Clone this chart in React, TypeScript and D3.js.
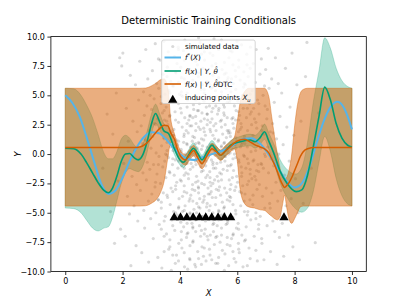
import { useEffect, useRef } from 'react'
import * as d3 from 'd3'

const W = 407
const H = 305
const margin = { top: 36.6, right: 40.7, bottom: 33.5, left: 50.9 }
const font = 'DejaVu Sans'

const blue = '#56B4E9'
const green = '#009E73'
const orange = '#D55E00'

// true latent function f*(X)
const trueX = [0, 0.25, 0.5, 0.75, 1, 1.25, 1.5, 1.75, 2, 2.25, 2.5, 2.75, 3, 3.25, 3.5, 3.75, 4, 4.25, 4.5, 4.75, 5, 5.25, 5.5, 5.75, 6, 6.25, 6.5, 6.75, 7, 7.25, 7.5, 7.75, 8, 8.25, 8.5, 8.75, 9, 9.25, 9.5, 9.75, 10]
const trueY = [5.0, 4.35, 3.2, 1.4, -0.6, -2.5, -3.4, -3.1, -2.0, -0.6, 0.6, 1.45, 1.85, 1.8, 1.3, 0.6, 0.0, -0.4, -0.5, -0.3, -0.1, 0.1, 0.3, 0.6, 1.0, 1.3, 1.35, 1.0, 0.3, -0.6, -1.5, -2.4, -2.85, -2.5, -1.2, 0.8, 2.7, 4.0, 4.45, 3.8, 2.1]

// full GP posterior f(x) | Y, theta
const gpX = [0, 0.3, 0.55, 0.75, 0.95, 1.15, 1.35, 1.5, 1.65, 1.8, 1.95, 2.1, 2.25, 2.4, 2.55, 2.7, 2.85, 3, 3.15, 3.3, 3.45, 3.6, 3.8, 3.95, 4.12, 4.3, 4.47, 4.62, 4.77, 4.95, 5.12, 5.27, 5.42, 5.6, 5.77, 6.1, 6.45, 6.62, 6.8, 6.95, 7.1, 7.27, 7.5, 7.75, 8.05, 8.25, 8.45, 8.65, 8.85, 9.05, 9.25, 9.45, 9.65, 9.85, 10]
const gpMean = [0.5, 0.45, 0.0, -0.75, -1.6, -2.45, -3.1, -3.3, -2.9, -1.9, -0.65, 0.0, 0.05, -0.3, -0.5, -0.1, 1.0, 2.5, 3.45, 2.7, 1.95, 1.75, 0.5, -0.3, -0.7, -0.1, 0.5, 0.05, -0.5, 0.2, 0.75, 0.3, -0.1, 0.3, 0.75, 1.05, 1.2, 1.05, 1.4, 1.9, 1.1, 0.1, -1.5, -2.55, -3.2, -3.05, -1.8, 0.6, 3.2, 5.7, 4.6, 2.6, 1.35, 0.75, 0.6]
const gpHalf = [5.1, 5.1, 5.0, 4.9, 4.7, 4.1, 3.2, 2.9, 2.5, 2.1, 1.9, 1.6, 1.3, 1.1, 1.0, 0.95, 0.9, 0.85, 0.8, 0.7, 0.6, 0.55, 0.5, 0.45, 0.45, 0.45, 0.45, 0.4, 0.4, 0.4, 0.4, 0.4, 0.4, 0.4, 0.4, 0.45, 0.5, 0.55, 0.6, 0.65, 0.7, 0.8, 1.0, 1.2, 1.5, 1.9, 2.8, 3.8, 3.9, 4.2, 4.4, 4.7, 4.9, 5.0, 5.0]

// DTC posterior f(x) | Y, theta_DTC
const dtcX = [0, 2.4, 2.6, 2.8, 3.0, 3.2, 3.3, 3.45, 3.58, 3.68, 3.8, 3.95, 4.1, 4.2, 4.33, 4.48, 4.62, 4.77, 4.95, 5.12, 5.27, 5.42, 5.6, 5.77, 5.9, 6.0, 6.1, 6.25, 6.4, 6.6, 6.8, 6.95, 7.1, 7.2, 7.3, 7.4, 7.5, 7.58, 7.65, 7.72, 7.8, 7.9, 8.0, 8.1, 8.2, 8.3, 8.45, 8.7, 10]
const dtcMean = [0.55, 0.55, 0.6, 0.85, 1.35, 1.95, 2.2, 2.45, 2.4, 1.8, 1.3, 0.15, -0.4, -0.5, -0.1, 0.3, -0.3, -0.8, -0.1, 0.45, 0.2, -0.1, 0.3, 0.65, 0.95, 1.1, 1.2, 1.25, 1.1, 0.8, 0.6, 0.45, 0.1, -0.4, -0.9, -1.5, -2.2, -2.6, -2.85, -2.7, -2.45, -2.0, -1.4, -0.8, -0.2, 0.2, 0.45, 0.55, 0.55]
const dtcLower = [-4.43, -4.43, -4.43, -4.4, -4.2, -3.8, -3.4, -2.3, -0.3, 1.0, 0.8, -0.35, -0.85, -0.95, -0.55, -0.15, -0.75, -1.25, -0.55, 0.0, -0.25, -0.55, -0.15, 0.2, 0.45, -0.6, -3.0, -4.2, -4.5, -4.6, -4.75, -4.8, -5.1, -5.3, -5.5, -5.6, -5.3, -4.3, -3.5, -4.5, -5.5, -5.9, -5.5, -5.0, -4.5, -4.43, -4.43, -4.43, -4.43]
const dtcUpper = [5.6, 5.6, 5.6, 5.62, 5.8, 6.1, 6.3, 6.4, 5.6, 3.0, 1.8, 0.65, 0.05, -0.05, 0.35, 0.75, 0.15, -0.35, 0.35, 0.9, 0.65, 0.35, 0.75, 1.1, 1.45, 2.8, 4.4, 5.3, 5.6, 5.6, 5.6, 5.6, 4.9, 3.2, 1.5, 0.0, -1.3, -1.9, -2.1, -2.0, -1.4, 0.0, 2.4, 4.2, 5.2, 5.5, 5.6, 5.6, 5.6]

// inducing points X_u
const inducingX = [3.8, 4.02, 4.24, 4.46, 4.68, 4.9, 5.11, 5.33, 5.55, 5.77, 7.63]
const inducingY = [-5.3, -5.3, -5.3, -5.3, -5.3, -5.3, -5.3, -5.3, -5.3, -5.3, -5.3]

const xTicks = [0, 2, 4, 6, 8, 10]
const yTicks = [-10, -7.5, -5, -2.5, 0, 2.5, 5, 7.5, 10]

// simulated data (x, y), first batch
const simulatedA: [number, number][] = [
  [1.31,-1.2],[1.46,3.4],[1.58,-4.9],[1.66,1.7],[1.72,-7.6],[1.78,5.2],[1.84,-2.3],[1.9,8.2],[1.93,-6.4],[1.97,7.5],
  [2.01,8.6],[2.04,-0.8],[2.09,-7.0],[2.13,3.9],[2.17,-3.6],[2.2,1.1],[2.24,-5.1],[2.27,6.7],[2.29,-9.5],[2.33,-1.9],
  [2.36,2.8],[2.4,-4.4],[2.42,0.3],[2.45,5.9],[2.47,-7.8],[2.49,-2.6],[2.51,1.9],[2.53,-5.7],[2.56,4.6],[2.58,-0.4],
  [2.6,7.9],[2.62,-3.1],[2.65,2.4],[2.67,-8.4],[2.69,0.9],[2.71,-1.6],[2.73,5.3],[2.74,-4.8],[2.76,3.3],[2.77,-6.3],
  [2.79,1.2],[2.81,8.9],[2.83,-2.2],[2.85,4.1],[2.86,-0.7],[2.88,6.4],[2.9,-4.0],[2.91,-9.2],[2.93,2.0],[2.95,-1.3],
  [2.96,5.0],[2.98,-5.5],[2.99,0.5],[3.01,3.8],[3.02,-3.4],[3.04,7.1],[3.05,1.5],[3.07,-7.2],[3.08,-0.9],[3.1,4.7],
  [3.11,2.6],[3.13,-2.8],[3.14,9.4],[3.16,-5.0],[3.17,0.1],[3.19,6.0],[3.2,-1.7],[3.22,3.0],[3.23,-8.8],[3.24,-3.9],
  [3.25,1.8],[3.26,5.6],[3.27,-0.2],[3.28,-6.0],[3.3,2.2],[3.31,8.0],[3.32,-2.5],[3.34,4.3],[3.35,-4.6],[3.36,0.7],
  [3.37,-9.7],[3.39,3.5],[3.4,-1.1],[3.41,6.8],[3.42,-3.3],[3.43,1.4],[3.45,-7.0],[3.46,2.9],[3.47,-0.6],[3.48,5.1],
  [3.49,-5.3],[3.5,0.0],[3.44,9.6],[3.51,-2.0],[3.52,4.0],[3.53,-6.8],[3.55,1.0],[3.56,7.4],[3.57,-3.7],[3.58,2.5],
  [3.6,-0.3],[3.61,-8.1],[3.62,5.4],[3.63,-1.5],[3.64,3.2],[3.66,-4.3],[3.67,0.6],[3.68,6.2],[3.69,-2.9],[3.7,-9.9],
  [3.71,1.9],[3.72,-5.6],[3.73,4.8],[3.74,-0.9],[3.59,8.7],[3.65,-7.3],[3.54,2.8],[3.75,-3.2],[3.76,0.3],[3.77,5.8],
  [3.78,-4.9],[3.79,2.1],[3.8,-1.8],[3.81,8.3],[3.82,-6.5],[3.83,3.6],[3.84,-0.5],[3.85,-3.0],[3.86,6.9],[3.87,1.2],
  [3.88,-8.6],[3.89,-2.4],[3.9,4.4],[3.91,-5.2],[3.92,0.8],[3.93,-1.2],[3.94,9.1],[3.95,2.7],[3.96,-7.6],[3.97,-3.8],
  [3.98,5.1],[3.99,-0.1],[3.78,1.6],[3.84,-9.3],[3.9,7.7],[3.96,-4.5],[4.01,-2.2],[4.02,3.9],[4.03,-5.8],[4.04,0.4],
  [4.05,6.5],[4.06,-1.0],[4.07,-8.0],[4.08,2.3],[4.09,-3.6],[4.1,4.9],[4.11,-0.7],[4.12,8.8],[4.13,-6.2],[4.14,1.5],
  [4.15,-2.7],[4.16,-9.6],[4.17,3.1],[4.18,-4.4],[4.19,0.0],[4.2,6.0],[4.21,-1.6],[4.22,2.0],[4.23,-7.1],[4.24,-3.3],
  [4.05,5.3],[4.09,-4.9],[4.13,1.0],[4.17,9.7],[4.21,-5.4],[4.03,7.4],[4.24,0.9],[4.26,-0.4],[4.27,4.6],[4.28,-6.7],
  [4.29,1.8],[4.3,-2.1],[4.31,7.0],[4.32,-4.0],[4.33,0.2],[4.34,-8.9],[4.35,3.3],[4.36,-1.3],[4.37,5.7],[4.38,-3.5],
  [4.39,-0.8],[4.4,9.0],[4.41,2.4],[4.42,-5.9],[4.43,1.1],[4.44,-2.6],[4.45,6.3],[4.46,-7.4],[4.47,-0.1],[4.48,3.8],
  [4.49,-4.7],[4.27,-9.8],[4.31,2.9],[4.35,-5.1],[4.39,8.1],[4.43,-3.0],[4.47,4.2],[4.29,-1.7],[4.37,0.6],[4.45,-6.3],
  [4.51,1.4],[4.52,-3.1],[4.53,5.0],[4.54,-0.6],[4.55,-6.6],[4.56,2.6],[4.57,8.4],[4.58,-1.9],[4.59,-4.2],[4.6,0.5],
  [4.61,3.7],[4.62,-8.3],[4.63,-2.3],[4.64,6.6],[4.65,1.0],[4.66,-5.5],[4.67,-0.2],[4.68,4.3],[4.69,-3.8],[4.7,9.5],
  [4.71,2.1],[4.72,-7.0],[4.73,-1.1],[4.74,5.5],[4.52,-9.4],[4.55,3.2],[4.58,-5.0],[4.61,7.6],[4.64,-2.8],[4.67,0.9],
  [4.7,-4.6],[4.73,2.8],[4.56,-0.9],[4.62,4.8],[4.68,-6.1],[4.76,-2.5],[4.77,3.5],[4.78,-5.3],[4.79,0.7],[4.8,7.3],
  [4.81,-1.4],[4.82,-8.7],[4.83,2.2],[4.84,-3.9],[4.85,5.2],[4.86,-0.3],[4.87,9.2],[4.88,-6.4],[4.89,1.6],[4.9,-2.0],
  [4.91,-9.1],[4.92,4.0],[4.93,-4.5],[4.94,0.1],[4.95,6.1],[4.96,-1.8],[4.97,2.9],[4.98,-7.3],[4.99,-3.4],[4.78,5.9],
  [4.8,-4.1],[4.83,1.2],[4.86,8.0],[4.89,-5.7],[4.92,-0.6],[4.95,3.4],[4.98,-2.9],[4.77,-7.9],[4.84,4.5],[4.9,-1.0],
  [4.96,6.9],[5.01,0.3],[5.02,-4.8],[5.03,4.1],[5.04,-1.5],[5.05,8.6],[5.06,-6.9],[5.07,1.9],[5.08,-2.7],[5.09,5.6],
  [5.1,-0.5],[5.11,-9.0],[5.12,3.0],[5.13,-3.7],[5.14,0.8],[5.15,6.7],[5.16,-5.6],[5.17,-1.2],[5.18,2.4],[5.19,9.8],
  [5.2,-7.7],[5.21,-2.2],[5.22,4.7],[5.23,-0.1],[5.24,-4.3],[5.03,-8.1],[5.06,2.7],[5.09,-3.2],[5.12,7.5],[5.15,-0.9],
  [5.18,-5.9],[5.21,1.3],[5.24,5.4],[5.05,-2.4],[5.11,3.6],[5.17,-6.6],[5.23,0.4],[5.26,2.0],[5.27,-3.0],[5.28,6.2],
  [5.29,-0.8],[5.3,-6.1],[5.31,3.4],[5.32,-9.3],[5.33,1.1],[5.34,-2.3],[5.35,8.9],[5.36,-4.9],[5.37,0.2],[5.38,4.6],
  [5.39,-1.6],[5.4,-7.5],[5.41,2.8],[5.42,-3.5],[5.43,5.8],[5.44,0.6],[5.45,-5.2],[5.46,-0.4],[5.47,7.2],[5.48,-8.2],
  [5.49,1.7],[5.27,4.9],[5.3,-1.9],[5.33,-5.5],[5.36,3.9],[5.39,9.3],[5.42,-0.7],[5.45,2.3],[5.48,-4.1],[5.29,-7.0],
  [5.38,-2.8],[5.46,5.0],[5.51,-1.3],[5.52,4.2],[5.53,-4.6],[5.54,0.9],[5.55,7.8],[5.56,-2.9],[5.57,-8.5],[5.58,2.5],
  [5.59,-0.2],[5.6,5.6],[5.61,-6.0],[5.62,1.4],[5.63,-3.3],[5.64,9.0],[5.65,3.1],[5.66,-1.0],[5.67,-5.7],[5.68,6.5],
  [5.69,0.0],[5.7,-9.5],[5.71,2.0],[5.72,-2.2],[5.73,4.4],[5.74,-4.0],[5.53,3.5],[5.57,-0.6],[5.61,6.9],[5.65,-7.1],
  [5.69,1.8],[5.73,-3.6],[5.55,-5.1],[5.63,0.5],[5.71,8.2],[5.76,1.5],[5.77,-3.7],[5.78,5.3],[5.79,-0.9],[5.8,-7.2],
  [5.81,3.0],[5.82,8.7],[5.83,-2.0],[5.84,0.4],[5.85,-5.4],[5.86,6.0],[5.87,-1.4],[5.88,2.2],[5.89,-8.9],[5.9,4.1],
  [5.91,-3.1],[5.92,0.8],[5.93,7.1],[5.94,-4.8],[5.95,-0.3],[5.96,3.7],[5.97,-6.3],[5.98,1.1],[5.99,9.6],[5.78,-2.6],
  [5.82,4.8],[5.86,-6.8],[5.9,0.0],[5.94,2.9],[5.98,-1.9],[5.8,6.4],[6.01,-2.4],[6.02,4.5],[6.03,-5.9],[6.04,1.9],
  [6.05,8.0],[6.06,-0.7],[6.07,-8.4],[6.08,3.3],[6.09,-3.2],[6.1,6.3],[6.11,0.6],[6.12,-4.4],[6.13,2.6],[6.14,-1.1],
  [6.15,9.3],[6.16,-6.9],[6.17,1.0],[6.18,5.0],[6.19,-2.7],[6.2,-9.6],[6.21,3.9],[6.22,-0.1],[6.23,7.0],[6.24,-4.0],
  [6.04,-7.6],[6.1,2.1],[6.16,-1.6],[6.22,5.7],[6.26,0.9],[6.27,-3.4],[6.28,5.9],[6.3,-1.2],[6.31,-6.2],[6.32,3.1],
  [6.33,8.5],[6.35,-0.4],[6.36,2.0],[6.37,-4.9],[6.38,6.6],[6.4,-2.3],[6.41,-8.0],[6.42,1.3],[6.43,4.3],[6.45,-1.7],
  [6.46,9.1],[6.47,-5.6],[6.48,0.2],[6.49,3.6],[6.29,-7.3],[6.34,7.6],[6.39,-0.8],[6.44,-3.9],[6.5,2.5],[6.51,-2.1],
  [6.52,5.4],[6.54,-4.3],[6.55,1.6],[6.56,7.7],[6.58,-0.5],[6.59,-7.0],[6.6,3.0],[6.61,-1.9],[6.63,6.1],[6.64,0.3],
  [6.65,-5.0],[6.66,8.9],[6.68,2.2],[6.69,-3.0],[6.7,-9.1],[6.71,4.6],[6.72,-0.9],[6.73,1.0],[6.74,-6.4],[6.57,3.9],
  [6.67,-1.4],[6.76,3.4],[6.77,-2.6],[6.79,6.8],[6.8,-5.3],[6.82,0.5],[6.83,-0.8],[6.84,8.1],[6.86,-7.6],[6.87,2.4],
  [6.88,-3.6],[6.9,5.0],[6.91,-1.2],[6.93,-9.0],[6.94,1.7],[6.96,-4.6],[6.97,4.1],[6.98,-0.2],[6.99,7.2],[7.01,-2.9],
  [7.03,3.0],[7.04,-6.1],[7.06,0.6],[7.08,9.0],[7.09,-1.6],[7.11,5.6],[7.13,-4.2],[7.15,1.9],[7.16,-8.3],[7.18,-0.4],
  [7.2,6.4],[7.21,-3.3],[7.23,2.6],[7.24,-5.7],[7.27,-1.0],[7.29,4.4],[7.31,-6.6],[7.33,8.2],[7.35,-2.4],[7.37,1.3],
  [7.39,-9.4],[7.41,-4.0],[7.43,6.0],[7.45,0.0],[7.47,-7.1],[7.49,3.2],[7.52,-3.1],[7.55,5.2],[7.57,-5.9],[7.6,0.8],
  [7.62,-8.7],[7.65,-1.8],[7.68,7.3],[7.7,-4.4],[7.73,2.3],[7.78,-6.9],[7.81,-0.6],[7.84,4.0],[7.88,-3.8],[7.91,8.6],
  [7.94,-7.9],[7.97,1.6],[8.03,-2.1],[8.08,5.9],[8.12,-5.0],[8.17,-9.0],[8.22,2.8],[8.3,-4.2],[8.38,6.6],[8.43,9.5],
  [8.58,-1.2],[8.72,-7.55],[8.84,3.5],
]

// simulated data (x, y), second batch
const simulatedB: [number, number][] = [
  [4.55,7.9],[5.35,-3.1],[3.95,-0.6],[6.15,2.3],[4.85,-6.8],[5.65,4.4],[3.45,1.3],[6.65,-2.2],[4.25,9.3],[5.05,-8.6],
  [5.85,0.9],[4.65,-4.5],[3.75,5.8],[6.35,-5.2],[5.25,2.6],[4.15,-1.8],[4.95,6.2],[5.55,-0.2],[3.65,-7.9],[6.05,7.4],
  [4.45,3.1],[5.15,-2.5],[4.75,0.4],[5.95,-9.2],[3.85,2.9],[6.45,5.1],[5.45,-6.3],[4.35,-3.8],[5.75,8.8],[4.05,0.2],
  [6.85,-0.9],[3.35,-4.1],[5.05,4.9],[4.55,-9.6],[5.65,-1.4],[4.85,1.9],[6.25,-7.4],[3.55,6.6],[5.35,3.7],[4.25,-5.9],
  [7.05,3.8],[3.15,-2.4],[4.95,-0.1],[5.85,-4.3],[4.45,8.2],[6.55,1.1],[5.25,-7.1],[3.95,4.3],[4.65,-2.9],[6.05,-0.5],
  [5.55,6.8],[4.15,-8.4],[5.15,1.6],[3.75,-0.4],[6.35,3.9],[4.75,-5.3],[5.45,0.7],[4.35,2.4],[5.95,5.5],[3.25,8.1],
  [6.75,-6.0],[4.85,-3.6],[5.65,2.0],[4.05,-6.6],[5.05,9.1],[4.55,0.9],[6.15,-3.3],[3.65,3.3],[5.35,-4.8],[4.95,3.4],
  [5.75,-1.0],[4.25,5.2],[6.45,-8.9],[3.85,-2.7],[5.15,-0.7],[4.65,6.9],[5.85,3.1],[4.45,-7.5],[6.95,0.0],[3.45,-5.7],
  [5.25,4.1],[4.75,-1.5],[5.55,-5.4],[4.15,1.7],[6.25,6.0],[3.95,-9.1],[5.05,-2.0],[4.35,7.2],[5.45,9.7],[6.65,2.7],
  [4.85,-8.0],[3.55,0.3],[5.95,-2.8],[4.55,4.6],[5.65,-7.7],[4.05,3.5],[6.05,-6.4],[5.15,5.7],[4.95,-4.2],[3.75,-6.1],
  [6.35,0.6],[5.35,1.2],[4.25,-0.8],[5.85,7.6],[4.65,2.3],[7.15,-4.6],[3.35,4.9],[5.25,-9.3],[4.45,-1.1],[6.55,-3.5],
  [5.75,0.1],[4.75,8.5],[3.95,-4.6],[5.45,-2.2],[6.15,4.7],[4.15,-3.2],[5.05,2.1],[4.85,5.5],[5.55,3.3],[3.65,-1.6],
  [6.45,-1.3],[4.35,0.0],[5.95,1.4],[4.55,-5.6],[5.65,6.3],[3.85,7.0],[6.75,4.3],[5.15,-5.0],[4.25,2.6],[5.35,-8.8],
  [4.95,0.6],[6.25,-4.9],[3.45,-8.3],[5.85,-6.9],[4.65,-3.3],[5.25,7.7],[4.05,-2.3],[6.85,-7.2],[4.45,5.9],[5.55,1.0],
  [4.75,-6.5],[3.25,-0.9],[5.05,-4.4],[6.05,2.9],[4.15,6.4],[5.75,-3.0],[4.85,3.0],[3.75,1.6],[6.35,-9.5],[5.45,5.3],
  [4.35,-9.0],[5.95,0.5],[4.55,-2.4],[6.65,-5.5],[5.15,3.9],[3.95,8.9],[4.95,-7.0],[5.65,-3.9],[4.25,4.0],[6.15,-1.9],
  [5.35,6.5],[3.55,-3.5],[4.75,1.3],[5.85,-0.4],[4.45,-4.0],[7.25,1.8],[5.05,0.8],[4.65,9.9],[3.15,2.5],[6.45,7.3],
  [5.25,-1.2],[4.05,-7.3],[5.55,-9.9],[4.85,-0.3],[6.55,-0.6],[3.85,-5.0],[5.75,4.6],[4.15,-4.8],[5.45,-1.7],[6.25,1.5],
  [4.95,7.1],[3.65,5.2],[5.15,-6.0],[4.35,3.2],[5.95,-5.1],[4.55,2.0],[6.95,5.8],[3.35,-6.4],[5.65,0.3],[4.25,-6.8],
  [5.05,-3.4],[4.75,4.8],[6.05,-8.1],[5.35,0.0],[3.95,1.1],[4.65,-8.9],[5.85,2.6],[4.45,1.5],[6.35,-2.6],[5.25,-3.7],
  [4.15,8.0],[3.75,-8.6],[5.55,4.0],[4.85,-2.6],[6.75,-1.5],[5.45,-6.9],[4.05,5.0],[6.15,0.8],[4.95,-5.5],[3.45,3.7],
  [5.75,-7.8],[4.35,-5.0],[5.15,8.4],[4.55,-0.5],[6.45,3.4],[3.85,0.5],[5.65,-5.9],[4.25,0.8],[5.95,6.6],[4.75,-9.4],
  [5.05,5.9],[6.65,-8.2],[3.55,-0.1],[5.35,-5.6],[4.65,3.7],[6.25,-0.2],[4.15,-1.2],[5.85,-8.3],[4.85,8.7],[3.25,-3.9],
  [5.45,2.9],[4.45,-6.2],[6.05,3.6],[5.25,0.5],[3.95,6.1],[4.95,2.5],[5.55,-4.5],[4.35,-7.8],[6.85,2.0],[5.75,1.8],
]

export default function App() {
  const svgRef = useRef<SVGSVGElement>(null)

  useEffect(() => {
    if (!svgRef.current) return
    d3.select(svgRef.current).selectAll('*').remove()
    const svg = d3.select(svgRef.current)

    const x = d3.scaleLinear().domain([-0.5, 10.5]).range([margin.left, W - margin.right])
    const y = d3.scaleLinear().domain([-10, 10]).range([H - margin.bottom, margin.top])

    svg.append('defs').append('clipPath').attr('id', 'plot')
      .append('rect')
      .attr('x', margin.left).attr('y', margin.top)
      .attr('width', W - margin.left - margin.right)
      .attr('height', H - margin.top - margin.bottom)

    const plot = svg.append('g').attr('clip-path', 'url(#plot)')

    // simulated data
    plot.append('g')
      .selectAll('circle')
      .data([...simulatedA, ...simulatedB])
      .join('circle')
      .attr('cx', (d) => x(d[0]))
      .attr('cy', (d) => y(d[1]))
      .attr('r', 1.6)
      .attr('fill', '#000')
      .attr('fill-opacity', 0.15)

    const curve = d3.curveMonotoneX

    // GP band then DTC band
    const gpArea = d3.area<number>()
      .x((_, i) => x(gpX[i]))
      .y0((_, i) => y(gpMean[i] - gpHalf[i]))
      .y1((_, i) => y(gpMean[i] + gpHalf[i]))
      .curve(curve)
    plot.append('path')
      .datum(gpMean)
      .attr('d', gpArea)
      .attr('fill', green).attr('fill-opacity', 0.3)
      .attr('stroke', green).attr('stroke-opacity', 0.3).attr('stroke-width', 0.8)

    const dtcArea = d3.area<number>()
      .x((_, i) => x(dtcX[i]))
      .y0((_, i) => y(dtcLower[i]))
      .y1((_, i) => y(dtcUpper[i]))
      .curve(curve)
    plot.append('path')
      .datum(dtcMean)
      .attr('d', dtcArea)
      .attr('fill', orange).attr('fill-opacity', 0.5)
      .attr('stroke', orange).attr('stroke-opacity', 0.5).attr('stroke-width', 0.8)

    // lines
    const line = (xs: number[]) =>
      d3.line<number>().x((_, i) => x(xs[i])).y((d) => y(d)).curve(curve)

    plot.append('path').datum(trueY).attr('d', line(trueX))
      .attr('fill', 'none').attr('stroke', blue).attr('stroke-width', 2)
    plot.append('path').datum(gpMean).attr('d', line(gpX))
      .attr('fill', 'none').attr('stroke', green).attr('stroke-width', 1.6)
    plot.append('path').datum(dtcMean).attr('d', line(dtcX))
      .attr('fill', 'none').attr('stroke', orange).attr('stroke-width', 1.5)

    // inducing points
    const tri = d3.symbol().type(d3.symbolTriangle).size(37)
    plot.append('g')
      .selectAll('path')
      .data(inducingX)
      .join('path')
      .attr('d', tri)
      .attr('transform', (d, i) => `translate(${x(d)},${y(inducingY[i]) + 1.3})`)
      .attr('fill', '#000')

    // axes
    const xAxis = svg.append('g')
      .attr('transform', `translate(0,${H - margin.bottom})`)
      .call(d3.axisBottom(x).tickValues(xTicks).tickSize(3.5).tickPadding(3.5).tickFormat(d3.format('d')))
    const yAxis = svg.append('g')
      .attr('transform', `translate(${margin.left},0)`)
      .call(d3.axisLeft(y).tickValues(yTicks).tickSize(3.5).tickPadding(2.5).tickFormat(d3.format('.1f')))
    for (const ax of [xAxis, yAxis]) {
      ax.attr('font-size', 8).attr('font-family', font)
      ax.select('.domain').remove()
      ax.selectAll('line').attr('stroke', '#000').attr('stroke-width', 0.8)
      ax.selectAll('text').attr('fill', '#000')
    }

    // spines
    svg.append('rect')
      .attr('x', margin.left).attr('y', margin.top)
      .attr('width', W - margin.left - margin.right)
      .attr('height', H - margin.top - margin.bottom)
      .attr('fill', 'none').attr('stroke', '#000').attr('stroke-width', 0.8)

    // title & labels
    svg.append('text')
      .attr('x', (margin.left + W - margin.right) / 2).attr('y', 24)
      .attr('text-anchor', 'middle').attr('font-family', font).attr('font-size', 10)
      .text('Deterministic Training Conditionals')
    svg.append('text')
      .attr('x', (margin.left + W - margin.right) / 2).attr('y', 296)
      .attr('text-anchor', 'middle').attr('font-family', font).attr('font-size', 8.5)
      .attr('font-style', 'italic')
      .text('X')
    svg.append('text')
      .attr('transform', `translate(21,${(margin.top + H - margin.bottom) / 2}) rotate(-90)`)
      .attr('text-anchor', 'middle').attr('font-family', font).attr('font-size', 8.5)
      .attr('font-style', 'italic')
      .text('Y')

    // legend
    const lg = svg.append('g').attr('font-family', font).attr('font-size', 7.2)
    lg.append('rect')
      .attr('x', 161.7).attr('y', 40).attr('width', 93.5).attr('height', 63.5).attr('rx', 2)
      .attr('fill', '#fff').attr('fill-opacity', 0.8)
      .attr('stroke', '#ccc').attr('stroke-width', 0.8)

    const hx0 = 164.5
    const hx1 = 181
    const tx = 185
    const rows = [46.5, 57.5, 71, 84, 97.5]

    lg.append('circle').attr('cx', (hx0 + hx1) / 2).attr('cy', rows[0]).attr('r', 1.6)
      .attr('fill', '#000').attr('fill-opacity', 0.15)
    const handleColors = [blue, green, orange]
    handleColors.forEach((c, i) => {
      lg.append('line')
        .attr('x1', hx0).attr('x2', hx1).attr('y1', rows[i + 1]).attr('y2', rows[i + 1])
        .attr('stroke', c).attr('stroke-width', i === 0 ? 2 : 1.6)
    })
    lg.append('path').attr('d', tri)
      .attr('transform', `translate(${(hx0 + hx1) / 2},${rows[4] + 2.5})`)
      .attr('fill', '#000')

    const addText = (row: number, parts: [string, string?][]) => {
      const t = lg.append('text').attr('x', tx).attr('y', rows[row]).attr('dy', '0.35em')
      parts.forEach(([s, kind]) => {
        const ts = t.append('tspan').text(s)
        if (kind === 'i') ts.attr('font-style', 'italic')
        if (kind === 'sup') ts.attr('font-size', 5.2).attr('dy', -3)
        if (kind === 'after-sup') ts.attr('dy', 3)
        if (kind === 'sub') ts.attr('font-size', 5.2).attr('dy', 1.8).attr('font-style', 'italic')
      })
    }
    addText(0, [['simulated data']])
    addText(1, [['f', 'i'], ['*', 'sup'], ['(', 'after-sup'], ['X', 'i'], [')']])
    addText(2, [['f', 'i'], ['('], ['x', 'i'], [') | '], ['Y', 'i'], [', '], ['θ\u0302', 'i']])
    addText(3, [['f', 'i'], ['('], ['x', 'i'], [') | '], ['Y', 'i'], [', '], ['θ\u0302', 'i'], ['DTC']])
    addText(4, [['inducing points '], ['X', 'i'], ['u', 'sub']])
  }, [])

  return (
    <svg
      ref={svgRef}
      width={W}
      height={H}
      style={{ position: 'absolute', left: 0, top: 0, background: '#fff' }}
    />
  )
}
